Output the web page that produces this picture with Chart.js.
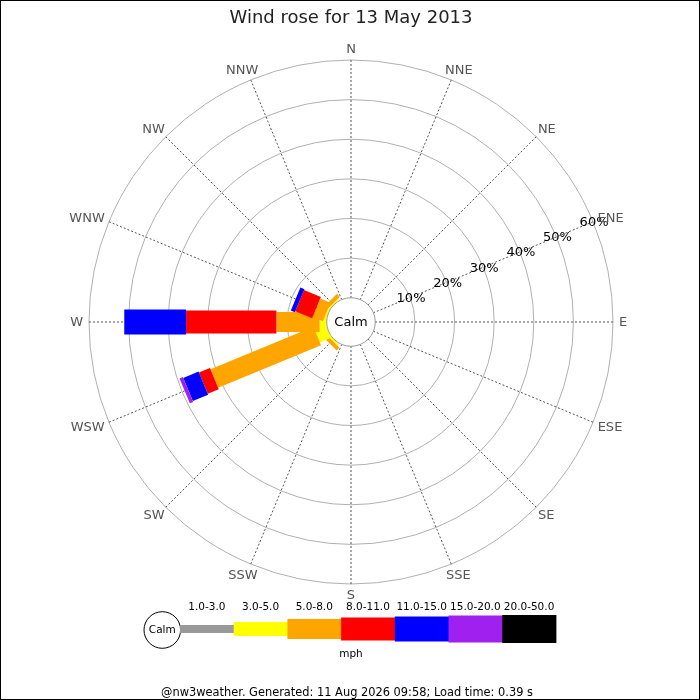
<!DOCTYPE html>
<html lang="en">
<head>
<meta charset="UTF-8">
<title>Wind rose for 13 May 2013</title>
<script src="https://cdn.jsdelivr.net/npm/chart.js@4.4.1/dist/chart.umd.min.js"></script>
<style>
    body { margin: 0; background: #fff; }
    #frame {
        position: absolute; left: 0; top: 0;
        width: 700px; height: 700px;
        border: 1px solid #000; box-sizing: border-box;
    }
    #rose { position: absolute; left: 0; top: 0; }
</style>
</head>
<body>
<div id="frame"></div>
<canvas id="rose" width="700" height="700"></canvas>

<script>
    // direction labels, clockwise from north
    var directions = ['N', 'NNE', 'NE', 'ENE', 'E', 'ESE', 'SE', 'SSE',
                      'S', 'SSW', 'SW', 'WSW', 'W', 'WNW', 'NW', 'NNW'];

    // speed bands (mph)
    var speedBands = ['1.0-3.0', '3.0-5.0', '5.0-8.0', '8.0-11.0', '11.0-15.0', '15.0-20.0', '20.0-50.0'];

    // % of the day per direction, one array per band
    //                  N  NNE NE ENE E ESE SE SSE S SSW SW   WSW   W     WNW  NW   NNW
    var speed1to3   = [0, 0,  0, 0,  0, 0,  0, 0,  0, 0, 0,   0,    0,    0,   0,   0];
    var speed3to5   = [0, 0,  0, 0,  0, 0,  0, 0,  0, 0, 0.5, 3.1,  1.8,  0.5, 0.4, 0];
    var speed5to8   = [0, 0,  0, 0,  0, 0,  0, 0,  0, 0, 1.0, 28.1, 10.9, 2.8, 1.0, 0];
    var speed8to11  = [0, 0,  0, 0,  0, 0,  0, 0,  0, 0, 0,   3.0,  22.8, 4.6, 0,   0];
    var speed11to15 = [0, 0,  0, 0,  0, 0,  0, 0,  0, 0, 0,   4.2,  15.6, 1.1, 0,   0];
    var speed15to20 = [0, 0,  0, 0,  0, 0,  0, 0,  0, 0, 0,   0.9,  0,    0,   0,   0];
    var speed20to50 = [0, 0,  0, 0,  0, 0,  0, 0,  0, 0, 0,   0,    0,    0,   0,   0];

    var ringValues = [10, 20, 30, 40, 50, 60];

    var bandColours = ['#999999', '#ffff00', '#ffa500', '#ff0000', '#0000ff', '#a020f0', '#000000'];
    var bandWidths = [8, 14, 20, 23, 25, 27, 28];

    var FONT = "'DejaVu Sans'";

    var bandData = [speed1to3, speed3to5, speed5to8, speed8to11, speed11to15, speed15to20, speed20to50];

    var roseBars = {
        id: 'roseBars',
        afterDatasetsDraw: function(chart) {
            var ctx = chart.ctx;
            var r = chart.scales.r;
            ctx.save();

            // stacked bars per direction
            directions.forEach(function(dir, i) {
                var cum = 0;
                chart.data.datasets.forEach(function(ds, b) {
                    var v = ds.data[i];
                    if (!v) return;
                    var d0 = r.getDistanceFromCenterForValue(cum);
                    cum += v;
                    var d1 = r.getDistanceFromCenterForValue(cum);
                    var a = r.getIndexAngle(i) - Math.PI / 2;
                    var ux = Math.cos(a), uy = Math.sin(a);
                    var nx = -uy * bandWidths[b] / 2, ny = ux * bandWidths[b] / 2;
                    var x0 = r.xCenter + ux * d0, y0 = r.yCenter + uy * d0;
                    var x1 = r.xCenter + ux * d1, y1 = r.yCenter + uy * d1;
                    ctx.fillStyle = ds.backgroundColor;
                    ctx.beginPath();
                    ctx.moveTo(x0 + nx, y0 + ny);
                    ctx.lineTo(x1 + nx, y1 + ny);
                    ctx.lineTo(x1 - nx, y1 - ny);
                    ctx.lineTo(x0 - nx, y0 - ny);
                    ctx.closePath();
                    ctx.fill();
                });
            });

            // calm circle
            var calmR = r.getDistanceFromCenterForValue(0);
            ctx.beginPath();
            ctx.arc(r.xCenter, r.yCenter, calmR, 0, Math.PI * 2);
            ctx.fillStyle = '#fff';
            ctx.fill();
            ctx.strokeStyle = '#999';
            ctx.lineWidth = 1;
            ctx.stroke();
            ctx.fillStyle = '#000';
            ctx.font = '13px ' + FONT;
            ctx.textAlign = 'center';
            ctx.textBaseline = 'middle';
            ctx.fillText('Calm', r.xCenter, r.yCenter + 1);

            // ring labels along ENE
            ringValues.forEach(function(v) {
                var p = r.getPointPositionForValue(3, v);
                ctx.fillText(v + '%', p.x + 1, p.y + 1);
            });

            // direction labels
            ctx.fillStyle = '#555';
            directions.forEach(function(dir, i) {
                var th = r.getIndexAngle(i);
                var p = r.getPointPosition(i, r.drawingArea + 6);
                var w = ctx.measureText(dir).width;
                ctx.fillText(dir, p.x + Math.sin(th) * w / 2, p.y - Math.cos(th) * 5 + 1);
            });
            ctx.restore();
        },
        afterDraw: function(chart) {
            var ctx = chart.ctx;
            var cx = chart.scales.r.xCenter;
            ctx.save();
            var legendY = 629, segW = 53.7, x0 = 180;

            ctx.beginPath();
            ctx.arc(x0 - 17.7, legendY + 1, 18.3, 0, Math.PI * 2);
            ctx.fillStyle = '#fff';
            ctx.fill();
            ctx.strokeStyle = '#000';
            ctx.lineWidth = 1;
            ctx.stroke();

            ctx.font = '10.5px ' + FONT;
            ctx.textAlign = 'center';
            ctx.textBaseline = 'middle';
            ctx.fillStyle = '#000';
            ctx.fillText('Calm', x0 - 17.7, legendY + 1.5);

            speedBands.forEach(function(label, b) {
                var x = x0 + b * segW;
                ctx.fillStyle = bandColours[b];
                ctx.fillRect(x, legendY - bandWidths[b] / 2, segW + 0.5, bandWidths[b]);
                ctx.fillStyle = '#000';
                ctx.fillText(label, x + segW / 2, 607);
            });
            ctx.fillText('mph', cx, 654);

            ctx.font = '11.4px ' + FONT;
            ctx.fillText('@nw3weather. Generated: 11 Aug 2026 09:58; Load time: 0.39 s', cx - 4, 693);
            ctx.restore();
        }
    };

    var datasets = bandData.map(function(arr, b) {
        return {
            label: speedBands[b],
            data: arr,
            backgroundColor: bandColours[b],
            borderWidth: 0,
            pointRadius: 0,
            pointHoverRadius: 0,
            showLine: false,
            fill: false
        };
    });

    new Chart(document.getElementById('rose').getContext('2d'), {
        type: 'radar',
        data: { labels: directions, datasets: datasets },
        options: {
            responsive: false,
            animation: false,
            events: [],
            layout: { padding: { left: 89, right: 87, top: 0, bottom: 116 } },
            plugins: {
                legend: { display: false },
                tooltip: { enabled: false },
                title: {
                    display: true,
                    text: 'Wind rose for 13 May 2013',
                    color: '#222',
                    font: { family: FONT, size: 18, weight: 'normal' },
                    padding: { top: 8, bottom: 30.4 }
                }
            },
            scales: {
                r: {
                    min: -6.13,
                    max: 60,
                    afterBuildTicks: function(scale) {
                        scale.ticks = ringValues.map(function(v) { return { value: v }; });
                    },
                    ticks: { display: false },
                    pointLabels: { display: false },
                    grid: { circular: true, color: '#b0b0b0', lineWidth: 1 },
                    angleLines: { color: '#555', lineWidth: 1, borderDash: [2, 2] }
                }
            }
        },
        plugins: [roseBars]
    });
</script>
</body>
</html>
